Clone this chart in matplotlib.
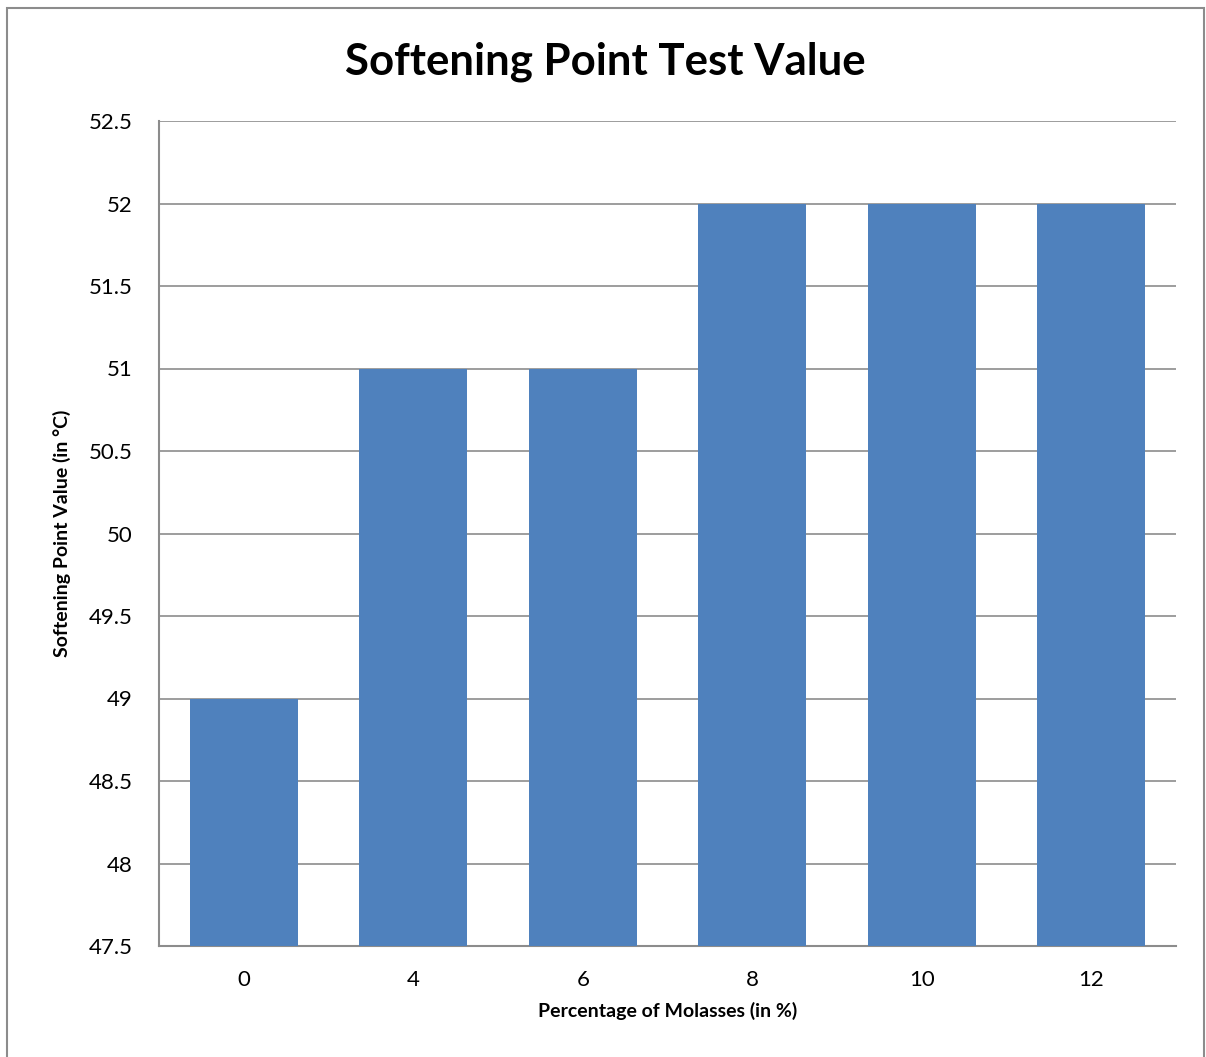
import matplotlib
matplotlib.use("Agg")
import matplotlib.pyplot as plt
from matplotlib.patches import Rectangle

categories = ["0", "4", "6", "8", "10", "12"]
values = [49, 51, 51, 52, 52, 52]
yticks = [47.5, 48, 48.5, 49, 49.5, 50, 50.5, 51, 51.5, 52, 52.5]
ytick_labels = ["47.5", "48", "48.5", "49", "49.5", "50", "50.5", "51", "51.5", "52", "52.5"]

plt.rcParams['font.family'] = ['Lato', 'DejaVu Sans']

W, H = 1206, 1057
fig = plt.figure(figsize=(W / 100, H / 100), dpi=100)
fig.patches.append(Rectangle((7 / W, -0.05), (1204 - 7) / W, 1.05 - 8 / H, transform=fig.transFigure,
                             fill=False, edgecolor='#8c8c8c', linewidth=1.5))

left, right, top, bottom = 159, 1176, 121, 946
ax = fig.add_axes([left / W, 1 - bottom / H, (right - left) / W, (bottom - top) / H])

x = list(range(len(categories)))
ax.bar(x, [v - 47.5 for v in values], bottom=47.5, width=0.64, color='#4F81BD', zorder=3)
ax.set_xlim(-0.5, len(categories) - 0.5)
ax.set_ylim(47.5, 52.5)
ax.set_yticks(yticks)
ax.set_yticklabels(ytick_labels, fontsize=16)
ax.set_xticks(x)
ax.set_xticklabels(categories, fontsize=16)
ax.yaxis.grid(True, color='#8c8c8c', linewidth=1.2, zorder=0)
ax.tick_params(length=0)
ax.tick_params(axis='y', pad=19)
ax.tick_params(axis='x', pad=17)
for s in ['top', 'right']:
    ax.spines[s].set_visible(False)
for s in ['left', 'bottom']:
    ax.spines[s].set_color('#8c8c8c')
    ax.spines[s].set_linewidth(1.5)

ax.set_xlabel("Percentage of Molasses (in %)", fontsize=14, fontweight='bold', labelpad=9)
ax.set_ylabel("Softening Point Value (in °C)", fontsize=14, fontweight='bold', labelpad=13)
fig.text((348 + 862) / 2 / W, 1 - 62 / H, "Softening Point Test Value", fontsize=31.5,
         fontweight='bold', ha='center', va='center')

fig.savefig("out.png", dpi=100)
